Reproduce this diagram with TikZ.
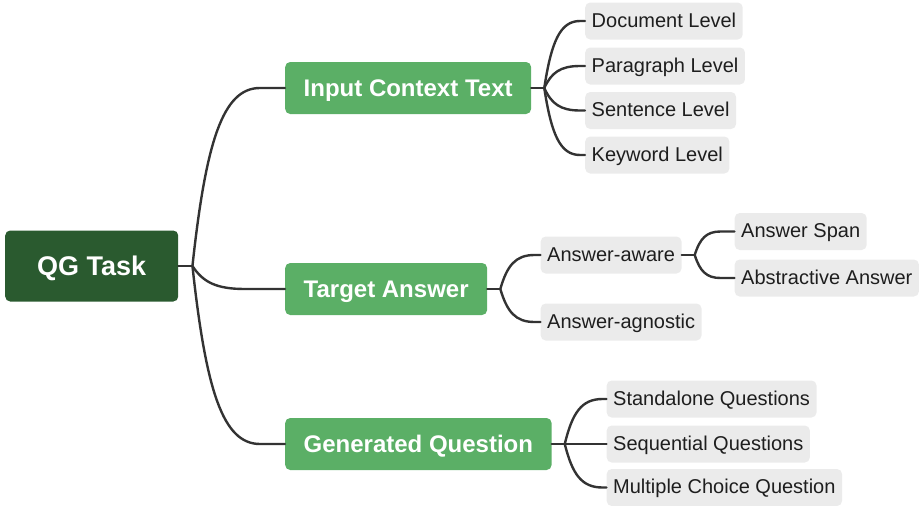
\documentclass[tikz,border=0pt]{standalone}
\usepackage{fontspec}
\setmainfont{Liberation Sans}
\usetikzlibrary{calc}
\definecolor{rootgreen}{HTML}{2A5A2F}
\definecolor{topicgreen}{HTML}{5BAF66}
\definecolor{leafgray}{HTML}{EBEBEB}
\definecolor{leaftext}{HTML}{1E1E1E}
\definecolor{linkgray}{HTML}{333333}
\tikzset{
  link/.style={draw=linkgray, line width=2.4pt, line cap=round, line join=round},
  rootbox/.style={fill=rootgreen, rounded corners=5pt, text=white,
    font=\bfseries\fontsize{27}{27}\selectfont, minimum height=71pt,
    text height=19.3pt, text depth=0pt,
    inner xsep=32pt, anchor=west},
  topic/.style={fill=topicgreen, rounded corners=5pt, text=white,
    font=\bfseries\fontsize{24}{24}\selectfont, minimum height=52pt,
    text height=17.2pt, text depth=0pt,
    inner xsep=18.5pt, anchor=west},
  leaf/.style={fill=leafgray, rounded corners=5pt, text=leaftext,
    font=\fontsize{20}{20}\selectfont, minimum height=37pt,
    text height=14.3pt, text depth=2pt,
    inner xsep=6.5pt, anchor=west},
  branch/.style={to path={let \p1=(\tikztostart), \p2=(\tikztotarget) in
    .. controls ({\x1+0.2*(\x2-\x1)},{\y1+0.7*(\y2-\y1)})
    and ({\x1+0.45*(\x2-\x1)},\y2) .. (\tikztotarget) \tikztonodes}}
}
\begin{document}
\begin{tikzpicture}[x=1pt,y=-1pt]
\useasboundingbox (0,0) rectangle (921,506);

% root and first-level topics
\node[rootbox] (root) at (5,266) {QG Task};
\node[topic] (inp) at (285,88) {Input Context Text};
\node[topic] (tgt) at (285,289) {Target Answer};
\node[topic] (gen) at (285,444) {Generated Question};

% context granularity
\node[leaf] (doc) at (585,21) {Document Level};
\node[leaf] (par) at (585,66) {Paragraph Level};
\node[leaf] (sen) at (585,110.5) {Sentence Level};
\node[leaf] (key) at (585,155) {Keyword Level};

% answer handling
\node[leaf] (aw) at (540.5,255) {Answer-aware};
\node[leaf] (ag) at (540.5,322) {Answer-agnostic};
\node[leaf] (span) at (734.5,231.5) {Answer Span};
\node[leaf] (abs) at (734.5,278) {Abstractive Answer};

% question types
\node[leaf] (sta) at (606.5,399) {Standalone Questions};
\node[leaf] (seq) at (606.5,444) {Sequential Questions};
\node[leaf] (mcq) at (606.5,487.5) {Multiple Choice Question};

% branch points
\coordinate (bR) at ([xshift=14pt]root.east);
\coordinate (bI) at ([xshift=13pt]inp.east);
\coordinate (bT) at ([xshift=13pt]tgt.east);
\coordinate (bA) at ([xshift=13pt]aw.east);
\coordinate (bG) at ([xshift=13pt]gen.east);

% connectors
\draw[link] (root.east) -- (bR);
\draw[link] (bR) to[branch] ([xshift=-25pt]inp.west) -- (inp.west);
\draw[link] (bR) to[branch] ([xshift=-40pt]tgt.west) -- (tgt.west);
\draw[link] (bR) to[branch] ([xshift=-25pt]gen.west) -- (gen.west);

\draw[link] (inp.east) -- (bI);
\foreach \n in {doc,par,sen,key}
  \draw[link] (bI) to[branch] ([xshift=-5pt]\n.west) -- (\n.west);

\draw[link] (tgt.east) -- (bT);
\foreach \n in {aw,ag}
  \draw[link] (bT) to[branch] ([xshift=-6pt]\n.west) -- (\n.west);

\draw[link] (aw.east) -- (bA);
\foreach \n in {span,abs}
  \draw[link] (bA) to[branch] ([xshift=-14pt]\n.west) -- (\n.west);

\draw[link] (gen.east) -- (bG);
\foreach \n in {sta,seq,mcq}
  \draw[link] (bG) to[branch] ([xshift=-4pt]\n.west) -- (\n.west);
\end{tikzpicture}
\end{document}
